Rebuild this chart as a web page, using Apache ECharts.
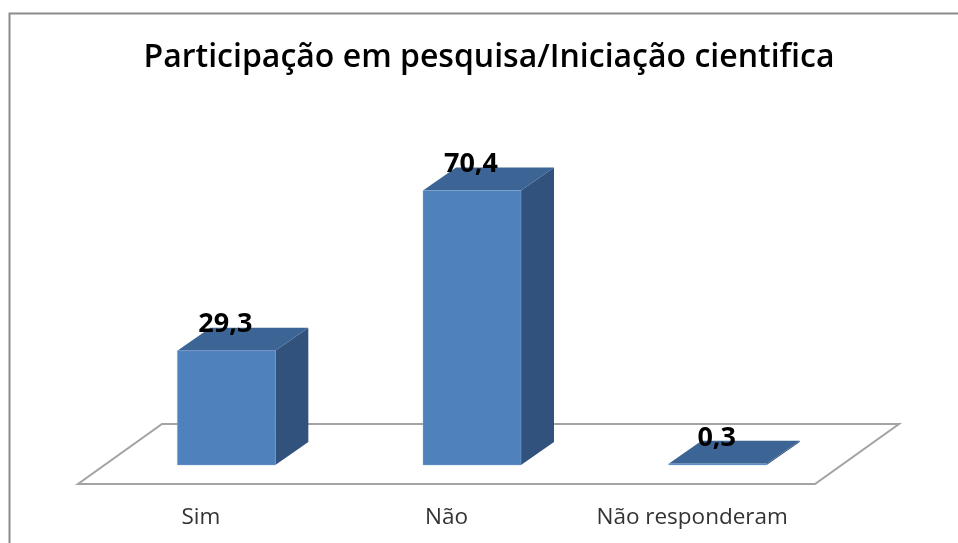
<!DOCTYPE html>
<html><head><meta charset="utf-8">
<style>html,body{margin:0;padding:0;background:#fff}#c{width:958px;height:543px}</style>
<script src="https://cdn.jsdelivr.net/npm/echarts@6/dist/echarts.min.js"></script>
</head><body><div id="c"></div>
<script>
const categories = ['Sim', 'Não', 'Não responderam'];
const values = [29.3, 70.4, 0.3];
const valueLabels = ['29,3', '70,4', '0,3'];
const titleText = 'Participação em pesquisa/Iniciação cientifica';

const FONT = '"Open Sans","Noto Sans",sans-serif';
const chart = echarts.init(document.getElementById('c'), null, {renderer: 'canvas'});

function floorItem(params, api) {
  const a = api.coord([0, 0]);
  const size = api.size([1, 0]);
  const x0 = a[0] - size[0] / 2, x1 = x0 + size[0] * categories.length, y = a[1];
  return {type: 'polygon', silent: true,
    shape: {points: [[x0, y], [x1, y], [x1 + 84, y - 60], [x0 + 84, y - 60]]},
    style: {fill: '#fff', stroke: '#a3a3a3', lineWidth: 2}};
}
function barItem(params, api) {
  const i = api.value(0), v = api.value(1);
  const base = api.coord([i, 0]), top = api.coord([i, v]);
  const cx = base[0] + 25.5, w = 98, ox = 33, oy = 23, lift = 19;
  const l = cx - w / 2, r = cx + w / 2, yb = base[1] - lift, yt = top[1] - lift;
  return {type: 'group', children: [
    {type: 'polygon', shape: {points: [[r, yt], [r + ox, yt - oy], [r + ox, yb - oy], [r, yb]]},
      style: {fill: '#30527C'}},
    {type: 'polygon', shape: {points: [[l, yt], [r, yt], [r + ox, yt - oy], [l + ox, yt - oy]]},
      style: {fill: '#3C6494'}},
    {type: 'rect', shape: {x: l, y: yt, width: w, height: yb - yt},
      style: {fill: '#4F81BD', stroke: '#8FB0D8', lineWidth: 0.4}},
    {type: 'text', z2: 10, style: {text: valueLabels[i], x: cx - 1, y: yt - 26, align: 'center',
      verticalAlign: 'middle', font: 'bold 27px ' + FONT, fill: '#000'}}
  ]};
}

chart.setOption({
  animation: false,
  backgroundColor: '#fff',
  title: {text: titleText, left: 484, top: 37, textAlign: 'center',
    textStyle: {fontFamily: FONT, fontWeight: 600, fontSize: 32, color: '#000'}},
  grid: {left: 78, width: 737, top: 94, height: 390},
  xAxis: {type: 'category', data: categories, axisLine: {show: false}, axisTick: {show: false},
    axisLabel: {margin: 22, fontFamily: FONT, fontSize: 22.5, color: '#333', interval: 0}},
  yAxis: {type: 'value', min: 0, max: 100, show: false},
  graphic: [{type: 'polyline', silent: true, z: -1,
    shape: {points: [[9.5, 543], [9.5, 13.5], [958, 13.5]]},
    style: {stroke: '#8c8c8c', lineWidth: 2, fill: null}}],
  series: [
    {type: 'custom', z: 1, renderItem: floorItem, data: [[0, 0]], silent: true},
    {type: 'custom', z: 2, renderItem: barItem, encode: {x: 0, y: 1},
      data: values.map((v, i) => [i, v])}
  ]
});
</script></body></html>
